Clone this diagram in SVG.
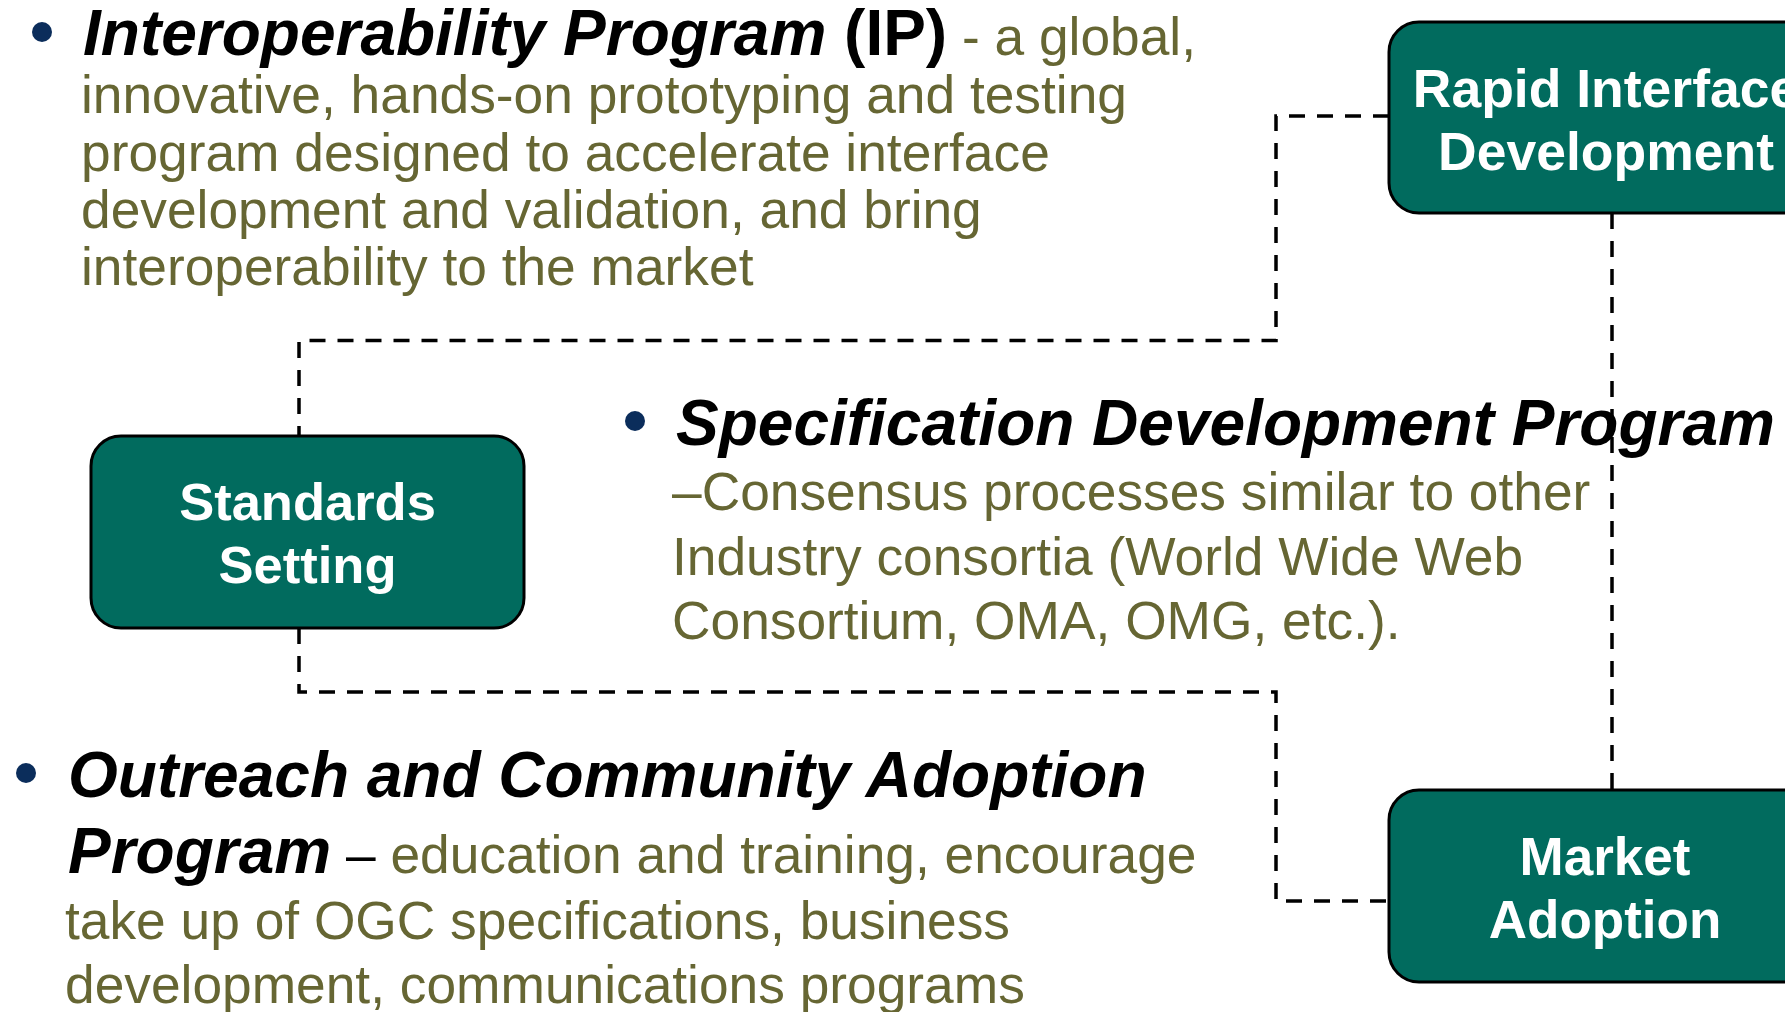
<svg xmlns="http://www.w3.org/2000/svg" width="1785" height="1012" viewBox="0 0 1785 1012">
<style>
.box{fill:#016B5E;stroke:#000;stroke-width:3}
.lbl{font-family:"Liberation Sans",Arial,sans-serif;font-weight:bold;fill:#fff;text-anchor:middle}
.conn{fill:none;stroke:#000;stroke-width:3.5;stroke-dasharray:16 12}
.bul{fill:#0B2D5B}
.t{font-family:"Liberation Sans",Arial,sans-serif;font-size:53.3px;fill:#666633}
.h{font-weight:bold;font-style:italic;font-size:64px;fill:#000}
.hb{font-weight:bold;font-size:64px;fill:#000}
</style>
<rect width="1785" height="1012" fill="#fff"/>
<g id="connectors">
<polyline class="conn" points="1389,116 1276,116 1276,340.5 299,340.5 299,436"/>
<polyline class="conn" points="299,628 299,692 1276,692 1276,901 1389,901"/>
<line class="conn" x1="1612" y1="213" x2="1612" y2="790"/>
</g>
<g id="rapid-interface-development">
<rect class="box" x="1389" y="22" width="470" height="191" rx="30"/>
<text class="lbl" font-size="53.5" x="1606" y="107">Rapid Interface</text>
<text class="lbl" font-size="53.5" x="1606" y="170">Development</text>
</g>
<g id="standards-setting">
<rect class="box" x="91" y="436" width="433" height="192" rx="30"/>
<text class="lbl" font-size="52.5" x="307.5" y="520">Standards</text>
<text class="lbl" font-size="52.5" x="307.5" y="583">Setting</text>
</g>
<g id="market-adoption">
<rect class="box" x="1389" y="790" width="470" height="192" rx="30"/>
<text class="lbl" font-size="53" x="1605" y="875">Market</text>
<text class="lbl" font-size="53" x="1605" y="938">Adoption</text>
</g>
<g id="ip-text">
<circle class="bul" cx="42" cy="32" r="10"/>
<text class="t" x="83" y="55"><tspan class="h">Interoperability Program</tspan><tspan class="hb"> (IP)</tspan> - a global,</text>
<text class="t" x="81" y="113">innovative, hands-on prototyping and testing</text>
<text class="t" x="81" y="171">program designed to accelerate interface</text>
<text class="t" x="81" y="228">development and validation, and bring</text>
<text class="t" x="81" y="285">interoperability to the market</text>
</g>
<g id="spec-text">
<circle class="bul" cx="635" cy="421" r="10"/>
<text class="t h" x="676" y="445">Specification Development Program</text>
<text class="t" x="672" y="510">–Consensus processes similar to other</text>
<text class="t" x="672" y="575">Industry consortia (World Wide Web</text>
<text class="t" x="672" y="639">Consortium, OMA, OMG, etc.).</text>
</g>
<g id="outreach-text">
<circle class="bul" cx="26" cy="773" r="10"/>
<text class="t h" x="68" y="797">Outreach and Community Adoption</text>
<text class="t" x="68" y="873"><tspan class="h">Program</tspan><tspan fill="#000"> –</tspan> education and training, encourage</text>
<text class="t" x="65" y="939">take up of OGC specifications, business</text>
<text class="t" x="65" y="1003">development, communications programs</text>
</g>
</svg>
